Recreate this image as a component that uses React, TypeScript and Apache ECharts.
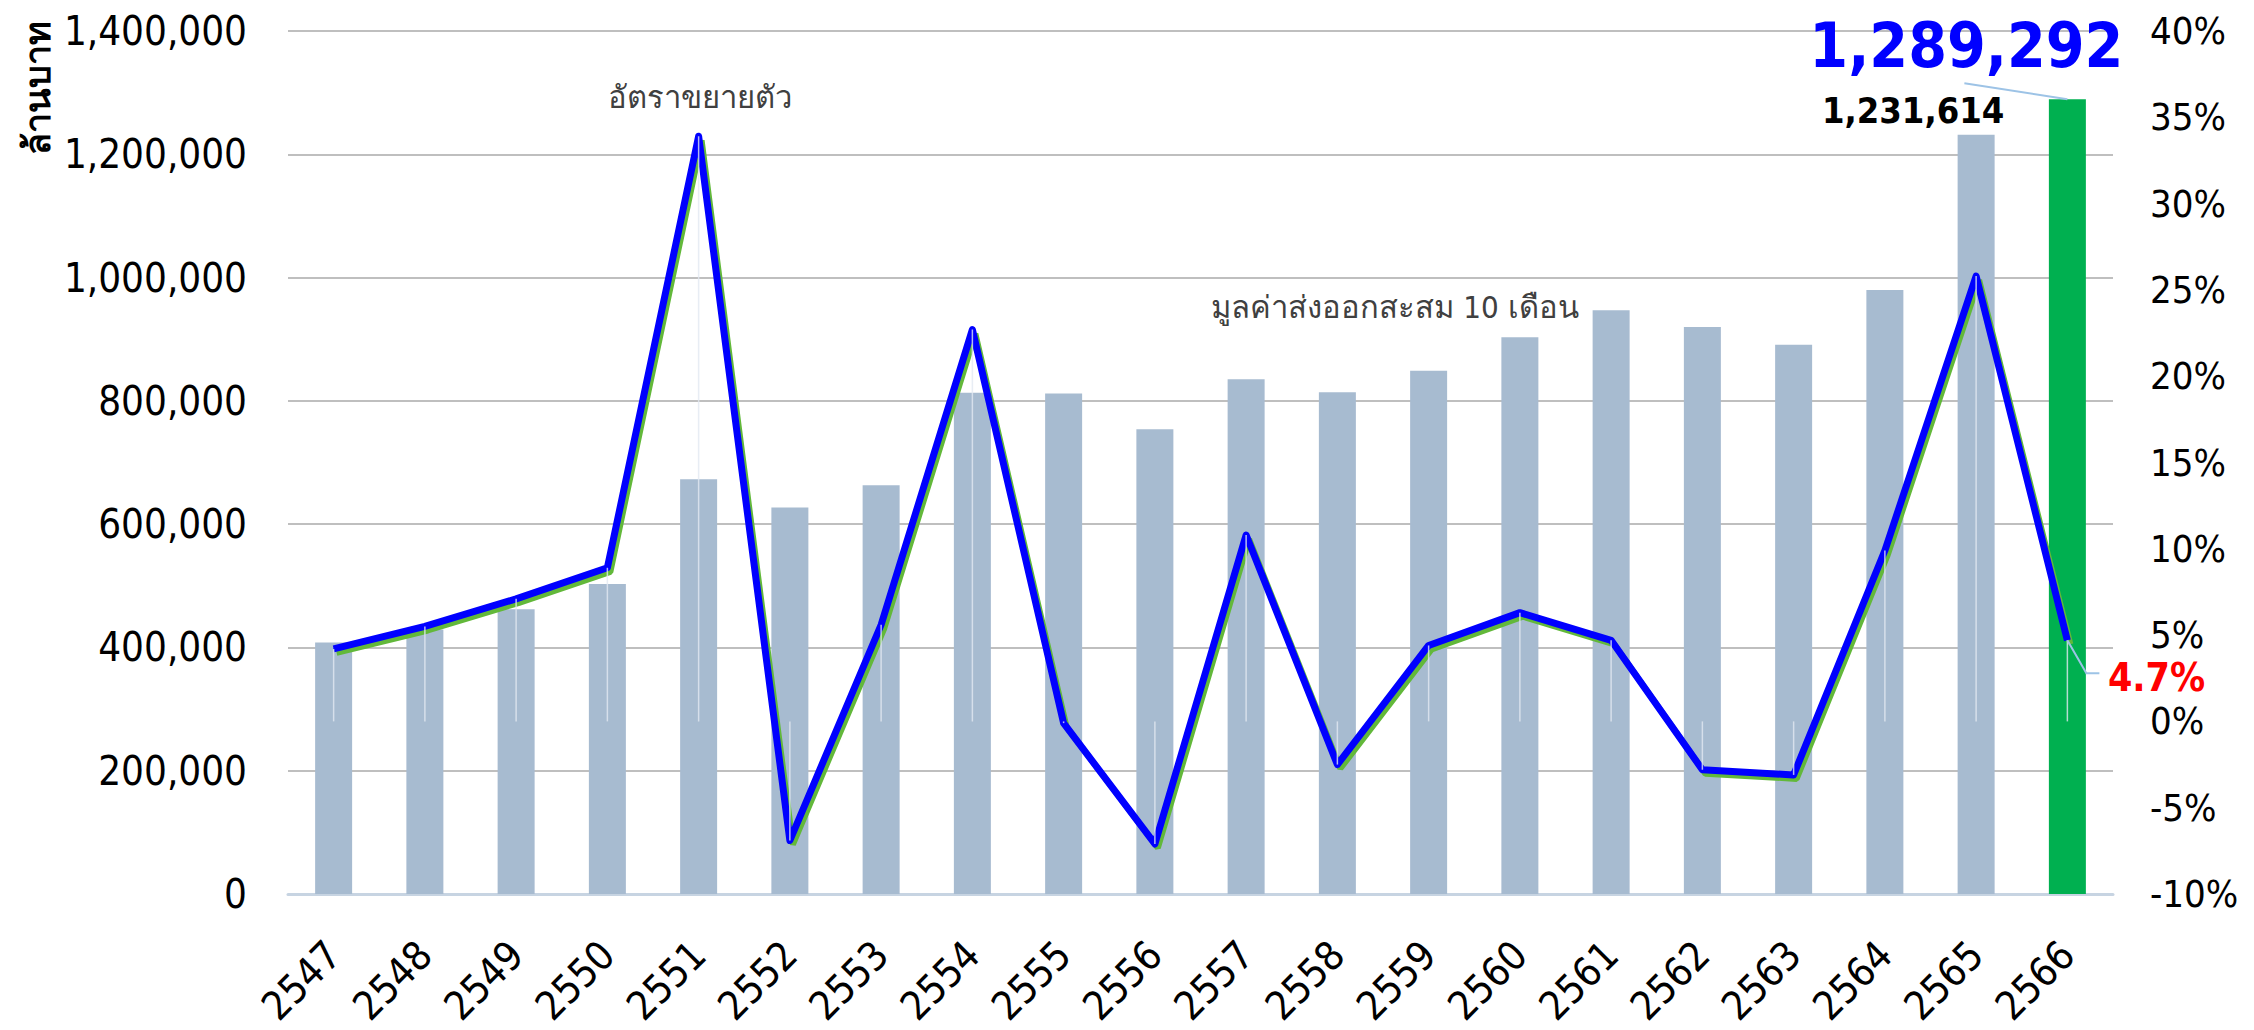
import React, { useEffect, useRef } from "react";
import * as echarts from "echarts";

const years = ["2547","2548","2549","2550","2551","2552","2553","2554","2555","2556","2557","2558","2559","2560","2561","2562","2563","2564","2565","2566"];
const exportValues = [408000, 429000, 462000, 503000, 673000, 627000, 663000, 813000, 812000, 754000, 835000, 814000, 849000, 903000, 947000, 920000, 891000, 980000, 1231614, 1289292];
const growthRates = [4.2, 5.5, 7.1, 8.9, 33.9, -6.9, 5.6, 22.7, -0.1, -7.1, 10.8, -2.5, 4.4, 6.3, 4.7, -2.8, -3.1, 9.9, 25.8, 4.7];
const leftAxis = { min: 0, max: 1400000, interval: 200000 };
const rightAxis = { min: -10, max: 40, interval: 5 };
const yAxisName = "ล้านบาท";
const growthNote = "อัตราขยายตัว";
const valueNote = "มูลค่าส่งออกสะสม 10 เดือน";

const FONT = "Tahoma, 'DejaVu Sans Condensed', 'DejaVu Sans', 'Noto Sans', sans-serif";

export default function App() {
  const ref = useRef<HTMLDivElement>(null);
  useEffect(() => {
    if (!ref.current) return;
    const chart = echarts.init(ref.current, undefined, { renderer: "svg" });
    const last = exportValues.length - 1;
    const fmt = (p: any) => Number(p.value).toLocaleString("en-US");
    const barData = exportValues.map((v, i) => {
      if (i === last) {
        return {
          value: v,
          itemStyle: { color: "#00B050" },
          label: {
            show: true, position: "top", distance: 23, offset: [-101, 0],
            fontSize: 62, fontWeight: "bold", color: "#0000FF", fontFamily: FONT, formatter: fmt,
          },
        };
      }
      if (i === last - 1) {
        return {
          value: v,
          label: {
            show: true, position: "top", distance: 6, offset: [-63, 0],
            fontSize: 36, fontWeight: "bold", color: "#000000", fontFamily: FONT, formatter: fmt,
          },
        };
      }
      return v;
    });
    const lineData = growthRates.map((v, i) =>
      i === last
        ? {
            value: v,
            label: {
              show: true, position: "right", distance: 40, offset: [0, 37],
              fontSize: 39, fontWeight: "bold", color: "#FF0000", fontFamily: FONT,
              lineHeight: 40,
              formatter: (p: any) => p.value + "%",
            },
          }
        : v
    );
    const catAxis = (gridIndex: number, show: boolean) => ({
      type: "category",
      gridIndex,
      data: years,
      show,
      axisTick: { show: false },
      axisLine: { show, lineStyle: { color: "#C7D4E2", width: 3 } },
      axisLabel: { rotate: 45, fontSize: 40, color: "#000", margin: 54, fontFamily: FONT },
    });
    chart.setOption({
      animation: false,
      textStyle: { fontFamily: FONT },
      grid: [
        { left: 288, right: 141, top: 31, bottom: 136 },
        { left: 291, right: 138, top: 35, bottom: 132 },
      ],
      xAxis: [catAxis(0, true), catAxis(1, false)],
      yAxis: [
        {
          type: "value", gridIndex: 0, ...leftAxis,
          axisLabel: { fontSize: 40, color: "#000", margin: 41, fontFamily: FONT,
            formatter: (v: number) => v.toLocaleString("en-US") },
          splitLine: { lineStyle: { color: "#BFBFBF", width: 2 } },
          axisLine: { show: false }, axisTick: { show: false },
        },
        {
          type: "value", gridIndex: 0, position: "right", ...rightAxis,
          axisLabel: { fontSize: 38, color: "#000", margin: 37, fontFamily: FONT, lineHeight: 38,
            formatter: (v: number) => v + "%" },
          splitLine: { show: false }, axisLine: { show: false }, axisTick: { show: false },
        },
        {
          type: "value", gridIndex: 1, ...rightAxis, show: false,
          splitLine: { show: false },
        },
      ],
      series: [
        {
          type: "bar", xAxisIndex: 0, yAxisIndex: 0, data: barData, barWidth: 37,
          itemStyle: { color: "#A7BBD0" }, z: 2,
        },
        {
          type: "line", xAxisIndex: 1, yAxisIndex: 2, data: growthRates,
          symbol: "none", lineStyle: { color: "#62B83A", width: 6 }, z: 3, silent: true,
        },
        {
          type: "line", xAxisIndex: 0, yAxisIndex: 1, data: lineData,
          symbol: "circle", symbolSize: 1, showSymbol: true,
          itemStyle: { color: "#0000FF" },
          lineStyle: { color: "#0000FF", width: 7, join: "round" }, z: 4,
        },
        {
          type: "custom", xAxisIndex: 0, yAxisIndex: 1, data: growthRates.map((v, i) => [i, v]),
          z: 5, silent: true,
          renderItem: (params: any, api: any) => {
            const a = api.coord([api.value(0), api.value(1)]);
            const b = api.coord([api.value(0), 0]);
            return {
              type: "line",
              shape: { x1: a[0], y1: a[1], x2: b[0], y2: b[1] },
              style: { stroke: "rgba(226,233,241,0.8)", lineWidth: 1.5 },
            };
          },
        },
      ],
    });
    const top = chart.convertToPixel({ xAxisIndex: 0, yAxisIndex: 0 }, [last, exportValues[last]]) as number[];
    const pt = chart.convertToPixel({ xAxisIndex: 0, yAxisIndex: 1 }, [last, growthRates[last]]) as number[];
    chart.setOption({
      graphic: [
        {
          type: "text", x: 37, y: 88, rotation: Math.PI / 2,
          style: { text: yAxisName, fontSize: 36, fontWeight: "bold", fill: "#000",
            align: "center", verticalAlign: "middle", fontFamily: FONT },
        },
        {
          type: "text", x: 700, y: 97,
          style: { text: growthNote, fontSize: 31, fill: "#404040",
            align: "center", verticalAlign: "middle", fontFamily: FONT },
        },
        {
          type: "text", x: 1395, y: 307,
          style: { text: valueNote, fontSize: 31, fill: "#404040",
            align: "center", verticalAlign: "middle", fontFamily: FONT },
        },
        {
          type: "line", z: 10,
          shape: { x1: top[0] - 103, y1: top[1] - 16, x2: top[0], y2: top[1] },
          style: { stroke: "#9DC3E6", lineWidth: 2 },
        },
        {
          type: "polyline", z: 10,
          shape: { points: [[pt[0], pt[1]], [pt[0] + 19, pt[1] + 33], [pt[0] + 32, pt[1] + 33]] },
          style: { stroke: "#9DC3E6", lineWidth: 2, fill: "none" },
        },
      ],
    });
    return () => chart.dispose();
  }, []);
  return <div ref={ref} style={{ position: "fixed", left: 0, top: 0, width: 2254, height: 1030, background: "#fff" }} />;
}
